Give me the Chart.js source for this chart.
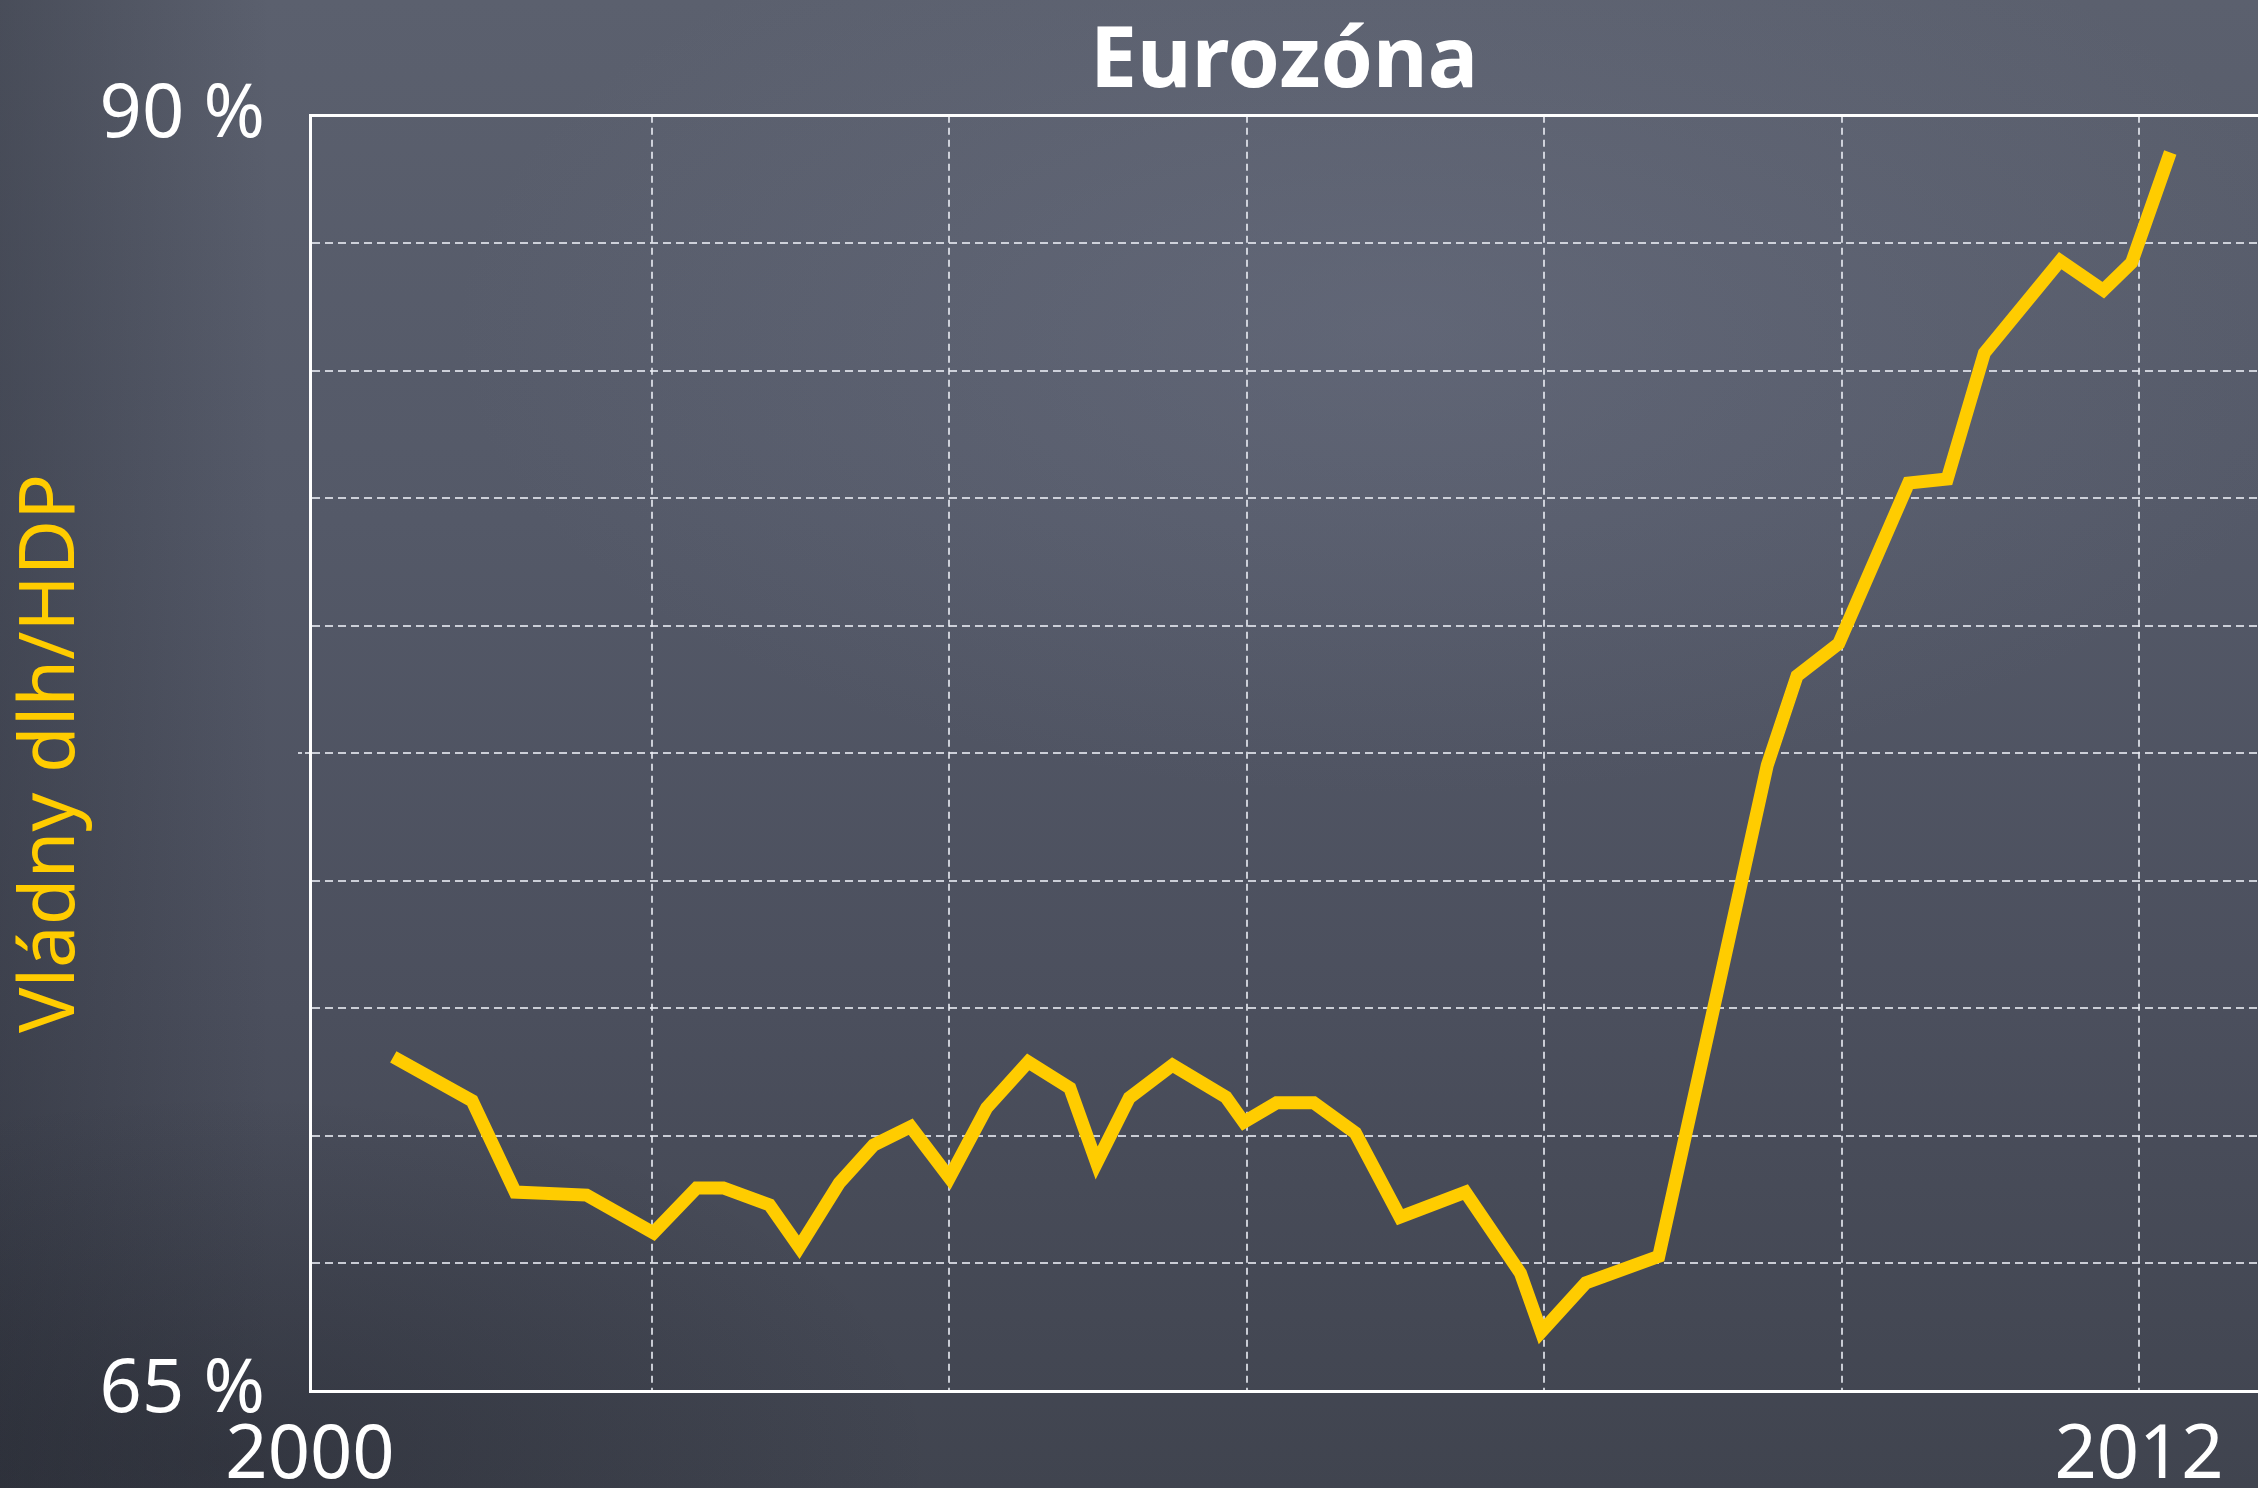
<!DOCTYPE html>
<html lang="sk">
<head>
<meta charset="utf-8">
<title>Eurozóna</title>
<script src="https://cdn.jsdelivr.net/npm/chart.js@4.4.0/dist/chart.umd.min.js"></script>
<style>
    html, body {
        margin: 0;
        padding: 0;
        width: 2258px;
        height: 1488px;
        overflow: hidden;
    }
    body {
        /* chalkboard look */
        background:
            radial-gradient(ellipse 60% 45% at 62% 22%, rgba(120, 126, 146, 0.30), rgba(120, 126, 146, 0) 70%),
            radial-gradient(ellipse 45% 35% at 10% 98%, rgba(18, 20, 28, 0.30), rgba(18, 20, 28, 0) 70%),
            linear-gradient(90deg, rgba(25, 28, 36, 0.28) 0%, rgba(25, 28, 36, 0) 12%),
            linear-gradient(180deg, #5b606e 0%, #545968 35%, #4b4f5d 68%, #40444f 100%);
    }
    #wrap {
        position: relative;
        width: 2258px;
        height: 1488px;
    }
</style>
</head>
<body>
<div id="wrap"><canvas id="debtChart"></canvas></div>
<script>
// Eurozone government debt / GDP
const years = [2000.26, 2000.79, 2001.08, 2001.56, 2002.01, 2002.30, 2002.48, 2002.79, 2002.99, 2003.26,
               2003.49, 2003.74, 2004.00, 2004.25, 2004.53, 2004.81, 2004.99, 2005.21, 2005.50, 2005.86,
               2005.98, 2006.20, 2006.45, 2006.73, 2007.03, 2007.47, 2007.84, 2007.98, 2008.28, 2008.77,
               2009.14, 2009.50, 2009.70, 2009.98, 2010.45, 2010.71, 2010.96, 2011.47, 2011.76, 2011.95,
               2012.21];
const debtRatio = [71.55, 70.69, 68.90, 68.84, 68.10, 68.98, 68.98, 68.65, 67.82, 69.08,
                   69.82, 70.18, 69.18, 70.55, 71.45, 70.94, 69.47, 70.75, 71.39, 70.76,
                   70.27, 70.65, 70.65, 70.06, 68.41, 68.90, 67.31, 66.16, 67.12, 67.64,
                   72.51, 77.27, 79.02, 79.65, 82.80, 82.88, 85.35, 87.16, 86.58, 87.12,
                   89.28];

// axes
const xRange = [1999.70, 2012.80];
const xGridYears = [2002, 2004, 2006, 2008, 2010, 2012];
const xEndLabels = ['2000', '2012'];
const yRange = [65, 90];
const yStep = 2.5;
const yEndLabels = { 65: '65 %', 90: '90 %' };

const chartTitle = 'Eurozóna';
const yTitle = 'Vládny dlh/HDP';

const chalk = '#ffffff';
const gridColor = 'rgba(235, 238, 245, 0.8)';
const lineColor = '#ffcc00';
const fontFamily = "'Noto Sans', 'DejaVu Sans', sans-serif";

const ctx = document.getElementById('debtChart').getContext('2d');

new Chart(ctx, {
    type: 'line',
    data: {
        datasets: [{
            data: years.map((y, i) => ({ x: y, y: debtRatio[i] })),
            borderColor: lineColor,
            borderWidth: 13,
            borderJoinStyle: 'miter',
            borderCapStyle: 'butt',
            pointRadius: 0,
            tension: 0,
            fill: false
        }]
    },
    options: {
        responsive: true,
        maintainAspectRatio: false,
        animation: false,
        devicePixelRatio: 1,
        layout: { padding: 0 },
        plugins: {
            legend: { display: false },
            tooltip: { enabled: false },
            title: {
                display: true,
                text: chartTitle,
                color: chalk,
                fullSize: false,
                font: { family: fontFamily, size: 84, weight: 'bold' },
                padding: { top: 13, bottom: 2 }
            }
        },
        scales: {
            x: {
                type: 'linear',
                min: xRange[0],
                max: xRange[1],
                afterBuildTicks: function(scale) {
                    scale.ticks = [scale.min].concat(xGridYears).map(v => ({ value: v }));
                },
                afterFit: function(scale) {
                    scale.height = 97;
                },
                grid: {
                    color: c => (c.index === 0 ? 'rgba(0,0,0,0)' : gridColor),
                    lineWidth: 2,
                    drawTicks: false
                },
                border: {
                    display: true,
                    color: chalk,
                    width: 3,
                    dash: [7, 5]
                },
                ticks: {
                    autoSkip: false,
                    maxRotation: 0,
                    padding: 22,
                    color: chalk,
                    font: { family: fontFamily, size: 74 },
                    callback: function(value, index) {
                        if (index === 0) return xEndLabels[0];
                        if (value === 2012) return xEndLabels[1];
                        return '';
                    }
                }
            },
            y: {
                min: yRange[0],
                max: yRange[1],
                afterFit: function(scale) {
                    scale.width = 310;
                },
                grid: {
                    color: c => {
                        if (c.tick.value === yRange[1]) return chalk;
                        if (c.tick.value === yRange[0]) return 'rgba(0,0,0,0)';
                        return gridColor;
                    },
                    lineWidth: c => (c.tick.value === yRange[1] ? 3 : 2),
                    tickLength: 12,
                    tickWidth: 2,
                    tickColor: c => (c.tick.value === 77.5 ? gridColor : 'rgba(0,0,0,0)'),
                    tickBorderDash: [4, 3]
                },
                border: {
                    display: true,
                    color: chalk,
                    width: 3,
                    dash: c => (c.tick && c.tick.value === yRange[1] ? [] : [8, 5])
                },
                ticks: {
                    stepSize: yStep,
                    padding: 33,
                    color: chalk,
                    font: { family: fontFamily, size: 74 },
                    callback: value => yEndLabels[value] || ''
                },
                title: {
                    display: true,
                    text: yTitle,
                    color: lineColor,
                    font: { family: fontFamily, size: 76 },
                    padding: { top: 7, bottom: 0 }
                }
            }
        }
    }
});
</script>
</body>
</html>
